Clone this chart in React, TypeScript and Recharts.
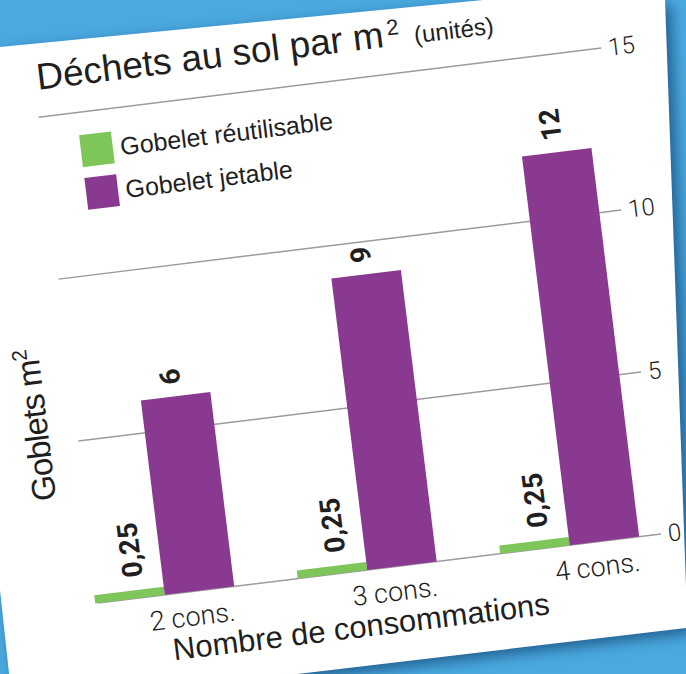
import React from "react";
import {
  BarChart,
  Bar,
  XAxis,
  YAxis,
  CartesianGrid,
  Legend,
  LabelList,
} from "recharts";

const categories = ["2 cons.", "3 cons.", "4 cons."];
const reusable = [0.25, 0.25, 0.25];
const disposable = [6, 9, 12];
const yTicks = [0, 5, 10, 15];
const seriesNames = ["Gobelet réutilisable", "Gobelet jetable"];

const GREEN = "#7fc65a";
const PURPLE = "#8a3990";
const INK = "#1f1f1f";
const GRID = "#9b9b9b";
const BLUE = "#4aa9df";
const SANS = '"Liberation Sans", Arial, sans-serif';
const DIN = 'Roboto, "DejaVu Sans", sans-serif';

const data = categories.map((name, i) => ({
  name,
  reusable: reusable[i],
  disposable: disposable[i],
}));

const W = 700;
const H = 720;

// rotated value labels sitting above each bar
function valueLabel(shift: number, gap: number) {
  return (props: any) => {
    const { x, y, width, value } = props;
    const cx = Number(x) + Number(width) / 2 + shift;
    const by = Number(y) - gap;
    return (
      <text
        x={cx}
        y={by}
        transform={`rotate(-90 ${cx} ${by})`}
        textAnchor="start"
        dominantBaseline="central"
        fontFamily={DIN}
        fontWeight={700}
        fontSize={28}
        fill={INK}
      >
        {String(value).replace(".", ",")}
      </text>
    );
  };
}

function LegendBox(props: any) {
  // keep the series order, not the alphabetical one
  const items = [...(props.payload || [])].sort(
    (a: any, b: any) => seriesNames.indexOf(a.value) - seriesNames.indexOf(b.value)
  );
  return (
    <div style={{ display: "flex", flexDirection: "column", gap: 11 }}>
      {items.map((it: any) => (
        <div
          key={it.value}
          style={{ display: "flex", alignItems: "center", height: 32 }}
        >
          <span
            style={{
              width: 32,
              height: 32,
              background: it.color,
              display: "inline-block",
            }}
          />
          <span
            style={{
              marginLeft: 7.5,
              fontFamily: SANS,
              fontSize: 25,
              lineHeight: "32px",
              color: INK,
              whiteSpace: "nowrap",
            }}
          >
            {it.value}
          </span>
        </div>
      ))}
    </div>
  );
}

export default function App() {
  return (
    <div
      style={{
        position: "fixed",
        left: 0,
        top: 0,
        width: 686,
        height: 674,
        overflow: "hidden",
        background: BLUE,
      }}
    >
      <div
        style={{
          position: "absolute",
          inset: 0,
          filter: "drop-shadow(6px 5px 7px rgba(0,35,80,0.55))",
        }}
      >
        <div
          style={{
            position: "absolute",
            inset: 0,
            background: "#fff",
            clipPath:
              "polygon(-58px 52.6px, 664.4px -17.6px, 687.5px 627.8px, 12.7px 707.7px)",
          }}
        />
      </div>

      <div
        style={{
          position: "absolute",
          left: 0,
          top: 0,
          width: W,
          height: H,
          transformOrigin: "0 0",
          transform: "rotate(-7deg) translate(-40px, 0px)",
        }}
      >
        <BarChart
          width={W}
          height={H}
          data={data}
          margin={{ top: 121, right: 0, bottom: 69.5, left: 29 }}
          barGap={0}
          style={{ fontFamily: DIN }}
        >
          <CartesianGrid
            horizontal
            vertical={false}
            x={64}
            width={567}
            stroke={GRID}
            strokeWidth={1.5}
          />
          <XAxis
            dataKey="name"
            axisLine={false}
            tickLine={false}
            tickSize={0}
            tickMargin={15}
            height={40}
            interval={0}
            tick={{
              fill: INK,
              fontSize: 27,
              fontWeight: 300,
              fontFamily: DIN,
              dx: 25,
            }}
          />
          <YAxis
            orientation="right"
            type="number"
            domain={[0, 15]}
            ticks={yTicks}
            width={59}
            axisLine={false}
            tickLine={false}
            tickSize={0}
            tickMargin={0}
            tick={{
              fill: INK,
              fontSize: 24,
              fontWeight: 300,
              fontFamily: DIN,
              dx: -3,
            }}
          />
          <Legend
            layout="vertical"
            align="center"
            verticalAlign="middle"
            content={<LegendBox />}
            wrapperStyle={{
              left: 102,
              top: 144,
              width: 420,
              right: "auto",
              bottom: "auto",
            }}
          />
          <Bar
            dataKey="reusable"
            name={seriesNames[0]}
            fill={GREEN}
            barSize={70}
            isAnimationActive={false}
          >
            <LabelList dataKey="reusable" content={valueLabel(6, 13)} />
          </Bar>
          <Bar
            dataKey="disposable"
            name={seriesNames[1]}
            fill={PURPLE}
            barSize={70}
            isAnimationActive={false}
          >
            <LabelList dataKey="disposable" content={valueLabel(-3, 12)} />
          </Bar>
        </BarChart>

        <svg
          width={W}
          height={H}
          style={{ position: "absolute", left: 0, top: 0, pointerEvents: "none" }}
        >
          <g fontFamily={SANS} fill={INK}>
            <text x={66.7} y={93.6} fontSize={37}>
              Déchets au sol par m
            </text>
            <text x={420} y={82.5} fontSize={22}>
              2
            </text>
            <text x={446.7} y={93.6} fontSize={24}>
              (unités)
            </text>
            <text
              x={35}
              y={502.6}
              fontSize={33}
              letterSpacing={-1}
              transform="rotate(-90 35 502.6)"
            >
              Goblets m
              <tspan fontSize={21} dy={-12}>
                2
              </tspan>
            </text>
            <text x={132.6} y={676.6} fontSize={31}>
              Nombre de consommations
            </text>
          </g>
        </svg>
      </div>
    </div>
  );
}
